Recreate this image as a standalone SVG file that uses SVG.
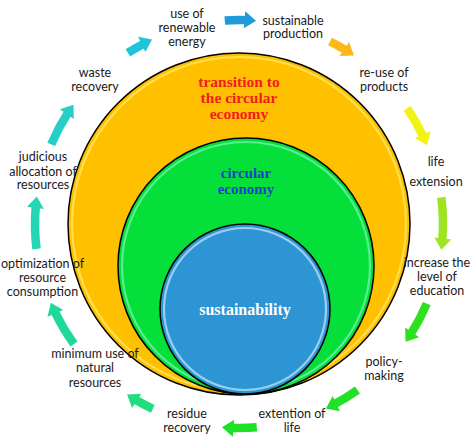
<svg xmlns="http://www.w3.org/2000/svg" width="474" height="442" viewBox="0 0 474 442">
<style>
.lbl{font-family:Lato,"Liberation Sans",sans-serif;font-size:12.5px;fill:#1a1a1a;text-anchor:middle}
.big{font-family:"Liberation Serif","Times New Roman",serif;font-weight:bold;text-anchor:middle}
.ring{fill:none;stroke:#000;stroke-width:1.5}
.shaft{fill:none;stroke-width:8.5}
</style>
<defs>
<polygon id="head" points="434.5,213.5 451.5,213.5 443,225"/>
</defs>
<rect width="474" height="442" fill="#fff"/>
<g id="transition">
<circle cx="239" cy="224" r="171" fill="#ffc000"/>
<circle cx="239" cy="224" r="167" fill="none" stroke="#ffe45a" stroke-width="2.2" opacity="0.85"/>
<circle cx="239" cy="224" r="171" class="ring"/>
<text class="big" font-size="15.5" fill="#f21c1c"><tspan x="239" y="87">transition to</tspan><tspan x="239" y="103">the circular</tspan><tspan x="239" y="119">economy</tspan></text>
</g>
<g id="circular">
<circle cx="246" cy="266" r="128" fill="#05df3a"/>
<circle cx="246" cy="266" r="124" fill="none" stroke="#6ff0a8" stroke-width="2.2" opacity="0.8"/>
<circle cx="246" cy="266" r="128" class="ring"/>
<text class="big" font-size="15" fill="#1f3fcf"><tspan x="246" y="177.5">circular</tspan><tspan x="246" y="194">economy</tspan></text>
</g>
<g id="sustainability">
<circle cx="245" cy="309" r="85" fill="#2e95d5"/>
<circle cx="245" cy="309" r="81" fill="none" stroke="#b4def6" stroke-width="2.2" opacity="0.8"/>
<circle cx="245" cy="309" r="85" class="ring"/>
<text class="big" font-size="16" fill="#ffffff" x="245" y="315">sustainability</text>
</g>
<g id="connectors">
<g fill="#1e9bd7" stroke="#1e9bd7"><circle class="shaft" cx="239" cy="224" r="204" pathLength="360" stroke-dasharray="6 360" transform="rotate(-94 239 224)"/><use href="#head" stroke="none" transform="rotate(-85.5 239 224)"/></g>
<g fill="#fbb817" stroke="#fbb817"><circle class="shaft" cx="239" cy="224" r="204" pathLength="360" stroke-dasharray="5 360" transform="rotate(-63.5 239 224)"/><use href="#head" stroke="none" transform="rotate(-56 239 224)"/></g>
<g fill="#f2f213" stroke="#f2f213"><circle class="shaft" cx="239" cy="224" r="204" pathLength="360" stroke-dasharray="9 360" transform="rotate(-34.5 239 224)"/><use href="#head" stroke="none" transform="rotate(-23 239 224)"/></g>
<g fill="#9de524" stroke="#9de524"><circle class="shaft" cx="239" cy="224" r="204" pathLength="360" stroke-dasharray="12 360" transform="rotate(-7.5 239 224)"/><use href="#head" stroke="none" transform="rotate(7 239 224)"/></g>
<g fill="#2ee01e" stroke="#2ee01e"><circle class="shaft" cx="239" cy="224" r="204" pathLength="360" stroke-dasharray="9.5 360" transform="rotate(23 239 224)"/><use href="#head" stroke="none" transform="rotate(35 239 224)"/></g>
<g fill="#22e028" stroke="#22e028"><circle class="shaft" cx="239" cy="224" r="204" pathLength="360" stroke-dasharray="7.5 360" transform="rotate(54.5 239 224)"/><use href="#head" stroke="none" transform="rotate(64.5 239 224)"/></g>
<g fill="#1ee024" stroke="#1ee024"><circle class="shaft" cx="239" cy="224" r="204" pathLength="360" stroke-dasharray="7 360" transform="rotate(85 239 224)"/><use href="#head" stroke="none" transform="rotate(94.5 239 224)"/></g>
<g fill="#22dd80" stroke="#22dd80"><circle class="shaft" cx="239" cy="224" r="204" pathLength="360" stroke-dasharray="5.5 360" transform="rotate(115 239 224)"/><use href="#head" stroke="none" transform="rotate(123 239 224)"/></g>
<g fill="#1fd89c" stroke="#1fd89c"><circle class="shaft" cx="239" cy="224" r="204" pathLength="360" stroke-dasharray="10.5 360" transform="rotate(144 239 224)"/><use href="#head" stroke="none" transform="rotate(157 239 224)"/></g>
<g fill="#24d5b6" stroke="#24d5b6"><circle class="shaft" cx="239" cy="224" r="204" pathLength="360" stroke-dasharray="12 360" transform="rotate(173 239 224)"/><use href="#head" stroke="none" transform="rotate(187.5 239 224)"/></g>
<g fill="#26cfc6" stroke="#26cfc6"><circle class="shaft" cx="239" cy="224" r="204" pathLength="360" stroke-dasharray="10 360" transform="rotate(203 239 224)"/><use href="#head" stroke="none" transform="rotate(215.5 239 224)"/></g>
<g fill="#1ec4d8" stroke="#1ec4d8"><circle class="shaft" cx="239" cy="224" r="204" pathLength="360" stroke-dasharray="5 360" transform="rotate(237 239 224)"/><use href="#head" stroke="none" transform="rotate(244.5 239 224)"/></g>
</g>
<g id="renewable"><text class="lbl"><tspan x="187" y="17.5">use of</tspan><tspan x="187" y="31.5">renewable</tspan><tspan x="187" y="45.5">energy</tspan></text></g>
<g id="production"><text class="lbl"><tspan x="293" y="24.5">sustainable</tspan><tspan x="293" y="38">production</tspan></text></g>
<g id="reuse"><text class="lbl"><tspan x="384" y="77">re-use of</tspan><tspan x="384" y="91">products</tspan></text></g>
<g id="life-ext"><text class="lbl"><tspan x="436" y="166">life</tspan><tspan x="436" y="186">extension</tspan></text></g>
<g id="education"><text class="lbl"><tspan x="437" y="267">increase the</tspan><tspan x="437" y="281">level of</tspan><tspan x="437" y="295">education</tspan></text></g>
<g id="policy"><text class="lbl"><tspan x="384" y="366">policy-</tspan><tspan x="384" y="379.5">making</tspan></text></g>
<g id="extention"><text class="lbl"><tspan x="292" y="418">extention of</tspan><tspan x="292" y="432">life</tspan></text></g>
<g id="residue"><text class="lbl"><tspan x="187" y="418">residue</tspan><tspan x="187" y="432">recovery</tspan></text></g>
<g id="minimum"><text class="lbl"><tspan x="95" y="358">minimum use of</tspan><tspan x="95" y="372">natural</tspan><tspan x="95" y="386.5">resources</tspan></text></g>
<g id="optimization"><text class="lbl"><tspan x="42.5" y="268">optimization of</tspan><tspan x="42.5" y="281.5">resource</tspan><tspan x="42.5" y="295.5">consumption</tspan></text></g>
<g id="judicious"><text class="lbl"><tspan x="43" y="161">judicious</tspan><tspan x="43" y="175.5">allocation of</tspan><tspan x="43" y="189">resources</tspan></text></g>
<g id="waste"><text class="lbl"><tspan x="95" y="77">waste</tspan><tspan x="95" y="91">recovery</tspan></text></g>
</svg>
